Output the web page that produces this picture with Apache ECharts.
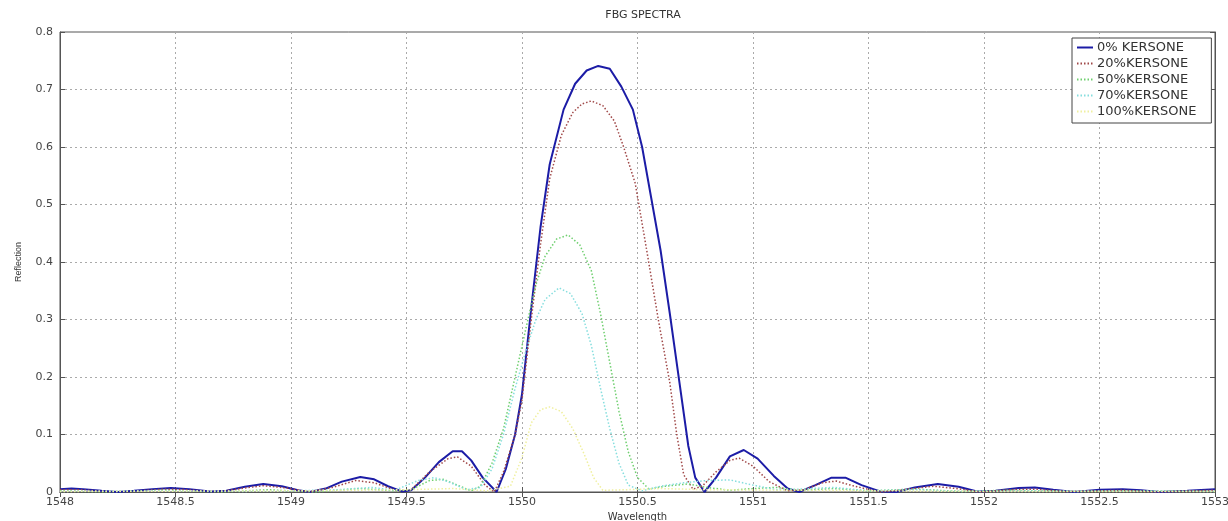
<!DOCTYPE html>
<html>
<head>
<meta charset="utf-8">
<title>FBG SPECTRA</title>
<script src="https://cdn.jsdelivr.net/npm/echarts@6/dist/echarts.min.js"></script>
<style>
  html, body { margin: 0; padding: 0; background: #fff; }
  #chart { width: 1228px; height: 521px; }
</style>
</head>
<body>
<div id="chart"></div>
<script>
// wavelength (nm), reflection pairs
const k0 = [
  [1548.00, 0.005], [1548.05, 0.006], [1548.10, 0.005], [1548.18, 0.002], [1548.25, 0.000],
  [1548.32, 0.002], [1548.40, 0.005], [1548.48, 0.007], [1548.56, 0.005], [1548.65, 0.001],
  [1548.72, 0.002], [1548.80, 0.009], [1548.88, 0.014], [1548.96, 0.010], [1549.03, 0.003],
  [1549.08, 0.000], [1549.15, 0.006], [1549.22, 0.018], [1549.30, 0.026], [1549.36, 0.022],
  [1549.42, 0.010], [1549.48, 0.001], [1549.52, 0.003], [1549.58, 0.025], [1549.64, 0.052],
  [1549.70, 0.071], [1549.74, 0.071], [1549.78, 0.055], [1549.83, 0.025], [1549.89, 0.000],
  [1549.93, 0.040], [1549.97, 0.100], [1550.00, 0.170], [1550.04, 0.320], [1550.08, 0.460],
  [1550.12, 0.570], [1550.18, 0.665], [1550.23, 0.710], [1550.28, 0.733], [1550.33, 0.741],
  [1550.38, 0.736], [1550.43, 0.705], [1550.48, 0.665], [1550.52, 0.600], [1550.56, 0.510],
  [1550.60, 0.420], [1550.64, 0.310], [1550.68, 0.195], [1550.72, 0.080], [1550.75, 0.025],
  [1550.79, 0.000], [1550.84, 0.025], [1550.90, 0.062], [1550.96, 0.073], [1551.02, 0.058],
  [1551.09, 0.028], [1551.15, 0.006], [1551.20, 0.000], [1551.27, 0.012], [1551.34, 0.025],
  [1551.40, 0.025], [1551.47, 0.012], [1551.55, 0.001], [1551.62, 0.000], [1551.70, 0.008],
  [1551.80, 0.014], [1551.89, 0.009], [1551.97, 0.001], [1552.05, 0.002], [1552.15, 0.007],
  [1552.22, 0.008], [1552.30, 0.004], [1552.39, 0.000], [1552.50, 0.004], [1552.60, 0.005],
  [1552.68, 0.003], [1552.76, 0.000], [1552.88, 0.002], [1553.00, 0.005]
];
const k20 = [
  [1548.00, 0.004], [1548.08, 0.004], [1548.20, 0.001], [1548.30, 0.001], [1548.45, 0.005],
  [1548.55, 0.004], [1548.68, 0.000], [1548.80, 0.007], [1548.88, 0.011], [1548.98, 0.007],
  [1549.08, 0.000], [1549.18, 0.008], [1549.28, 0.020], [1549.36, 0.016], [1549.46, 0.002],
  [1549.52, 0.004], [1549.60, 0.035], [1549.68, 0.058], [1549.72, 0.061], [1549.78, 0.045],
  [1549.84, 0.012], [1549.88, 0.000], [1549.92, 0.035], [1549.97, 0.100], [1550.00, 0.160],
  [1550.04, 0.300], [1550.08, 0.430], [1550.12, 0.545], [1550.17, 0.620], [1550.22, 0.660],
  [1550.26, 0.675], [1550.30, 0.680], [1550.35, 0.672], [1550.40, 0.645], [1550.44, 0.600],
  [1550.49, 0.537], [1550.54, 0.420], [1550.59, 0.300], [1550.64, 0.190], [1550.67, 0.100],
  [1550.70, 0.030], [1550.74, 0.005], [1550.78, 0.010], [1550.84, 0.035], [1550.90, 0.055],
  [1550.94, 0.059], [1551.00, 0.045], [1551.07, 0.018], [1551.15, 0.002], [1551.22, 0.004],
  [1551.30, 0.016], [1551.36, 0.019], [1551.44, 0.010], [1551.55, 0.000], [1551.65, 0.004],
  [1551.78, 0.010], [1551.88, 0.006], [1551.98, 0.000], [1552.12, 0.004], [1552.22, 0.005],
  [1552.35, 0.001], [1552.50, 0.002], [1552.60, 0.003], [1552.75, 0.000], [1552.90, 0.002],
  [1553.00, 0.003]
];
const k50 = [
  [1548.00, 0.002], [1548.20, 0.000], [1548.45, 0.003], [1548.70, 0.000], [1548.90, 0.004],
  [1549.10, 0.000], [1549.30, 0.006], [1549.45, 0.002], [1549.52, 0.004], [1549.60, 0.020],
  [1549.66, 0.022], [1549.72, 0.012], [1549.78, 0.002], [1549.82, 0.010], [1549.87, 0.050],
  [1549.92, 0.110], [1549.97, 0.200], [1550.02, 0.290], [1550.06, 0.360], [1550.10, 0.410],
  [1550.15, 0.440], [1550.20, 0.447], [1550.25, 0.430], [1550.30, 0.385], [1550.34, 0.310],
  [1550.38, 0.225], [1550.42, 0.140], [1550.46, 0.070], [1550.50, 0.025], [1550.55, 0.005],
  [1550.62, 0.010], [1550.72, 0.014], [1550.80, 0.008], [1550.90, 0.003], [1551.00, 0.006],
  [1551.10, 0.008], [1551.20, 0.003], [1551.35, 0.006], [1551.50, 0.002], [1551.70, 0.005],
  [1551.90, 0.001], [1552.10, 0.003], [1552.40, 0.001], [1552.70, 0.002], [1553.00, 0.001]
];
const k70 = [
  [1548.00, 0.001], [1548.40, 0.002], [1548.80, 0.001], [1549.00, 0.002], [1549.20, 0.004],
  [1549.35, 0.008], [1549.45, 0.003], [1549.55, 0.020], [1549.62, 0.025], [1549.68, 0.018],
  [1549.76, 0.004], [1549.82, 0.008], [1549.87, 0.040], [1549.92, 0.100], [1549.97, 0.180],
  [1550.02, 0.250], [1550.06, 0.300], [1550.10, 0.335], [1550.16, 0.355], [1550.21, 0.345],
  [1550.26, 0.310], [1550.30, 0.255], [1550.34, 0.180], [1550.38, 0.110], [1550.42, 0.050],
  [1550.46, 0.012], [1550.52, 0.002], [1550.60, 0.010], [1550.70, 0.016], [1550.80, 0.020],
  [1550.90, 0.021], [1551.00, 0.012], [1551.10, 0.004], [1551.20, 0.005], [1551.35, 0.008],
  [1551.50, 0.002], [1551.70, 0.004], [1551.90, 0.001], [1552.20, 0.002], [1553.00, 0.001]
];
const k100 = [
  [1548.00, 0.001], [1549.00, 0.002], [1549.50, 0.004], [1549.70, 0.006], [1549.85, 0.002],
  [1549.95, 0.010], [1550.00, 0.060], [1550.04, 0.120], [1550.08, 0.143], [1550.12, 0.148],
  [1550.17, 0.140], [1550.22, 0.110], [1550.27, 0.065], [1550.31, 0.025], [1550.35, 0.003],
  [1550.45, 0.004], [1550.60, 0.006], [1550.80, 0.004], [1551.20, 0.003], [1552.00, 0.001],
  [1553.00, 0.001]
];
const seriesNames = ['0% KERSONE', '20%KERSONE', '50%KERSONE', '70%KERSONE', '100%KERSONE'];
const seriesData = [k0, k20, k50, k70, k100];
const seriesColors = ['#1c1ca6', '#a04848', '#6fcf6f', '#86dede', '#f0f0a0'];

const font = 'DejaVu Sans, Verdana, sans-serif';
const chart = echarts.init(document.getElementById('chart'));

const series = seriesNames.map((name, i) => ({
  name: name,
  type: 'line',
  data: seriesData[i],
  showSymbol: false,
  symbol: 'none',
  smooth: false,
  animation: false,
  lineStyle: {
    color: seriesColors[i],
    width: i === 0 ? 2 : 1.5,
    type: i === 0 ? 'solid' : [1.5, 2]
  },
  itemStyle: { color: seriesColors[i] }
}));

chart.setOption({
  backgroundColor: '#fff',
  animation: false,
  title: {
    text: 'FBG SPECTRA',
    left: 638,
    textAlign: 'center',
    top: 5,
    textStyle: { fontFamily: font, fontSize: 11, fontWeight: 'normal', color: '#333' }
  },
  legend: {
    data: seriesNames,
    orient: 'vertical',
    left: 1072,
    top: 38,
    backgroundColor: '#fff',
    borderColor: '#444',
    borderWidth: 1,
    borderRadius: 0,
    padding: [3, 15, 5, 4],
    itemWidth: 16,
    itemHeight: 10,
    itemGap: 3,
    itemStyle: { opacity: 0 },
    textStyle: { fontFamily: font, fontSize: 13, color: '#333', padding: [0, 0, 0, -1] }
  },
  grid: {
    left: 60, right: 13, top: 32, bottom: 29,
    outerBoundsMode: 'none',
    containLabel: false,
    show: true, borderColor: '#555', borderWidth: 1
  },
  xAxis: [{
    type: 'value',
    min: 1548, max: 1553, interval: 0.5,
    name: 'Wavelength',
    nameLocation: 'middle',
    nameGap: 20,
    nameTextStyle: { fontFamily: font, fontSize: 10, color: '#333' },
    axisLine: { lineStyle: { color: '#555' } },
    axisTick: { inside: true, length: 5, lineStyle: { color: '#555' } },
    axisLabel: { fontFamily: font, fontSize: 11, color: '#444', margin: 5, formatter: v => String(v) },
    splitLine: { show: true, lineStyle: { color: '#aaa', type: [2, 3] } }
  }, {
    type: 'value', position: 'top',
    min: 1548, max: 1553, interval: 0.5,
    axisLine: { lineStyle: { color: '#555' } },
    axisTick: { inside: true, length: 5, lineStyle: { color: '#555' } },
    axisLabel: { show: false },
    splitLine: { show: false }
  }],
  yAxis: [{
    type: 'value',
    min: 0, max: 0.8, interval: 0.1,
    name: 'Reflection',
    nameLocation: 'middle',
    nameGap: 37,
    nameTextStyle: { fontFamily: 'Liberation Sans, Arial, sans-serif', fontSize: 9, color: '#333' },
    axisLine: { show: true, lineStyle: { color: '#555' } },
    axisTick: { show: true, inside: true, length: 5, lineStyle: { color: '#555' } },
    axisLabel: { fontFamily: font, fontSize: 11, color: '#444', margin: 7, formatter: v => String(v) },
    splitLine: { show: true, lineStyle: { color: '#aaa', type: [2, 3] } }
  }, {
    type: 'value', position: 'right',
    min: 0, max: 0.8, interval: 0.1,
    axisLine: { show: true, lineStyle: { color: '#555' } },
    axisTick: { show: true, inside: true, length: 5, lineStyle: { color: '#555' } },
    axisLabel: { show: false },
    splitLine: { show: false }
  }],
  series: series
});
</script>
</body>
</html>
